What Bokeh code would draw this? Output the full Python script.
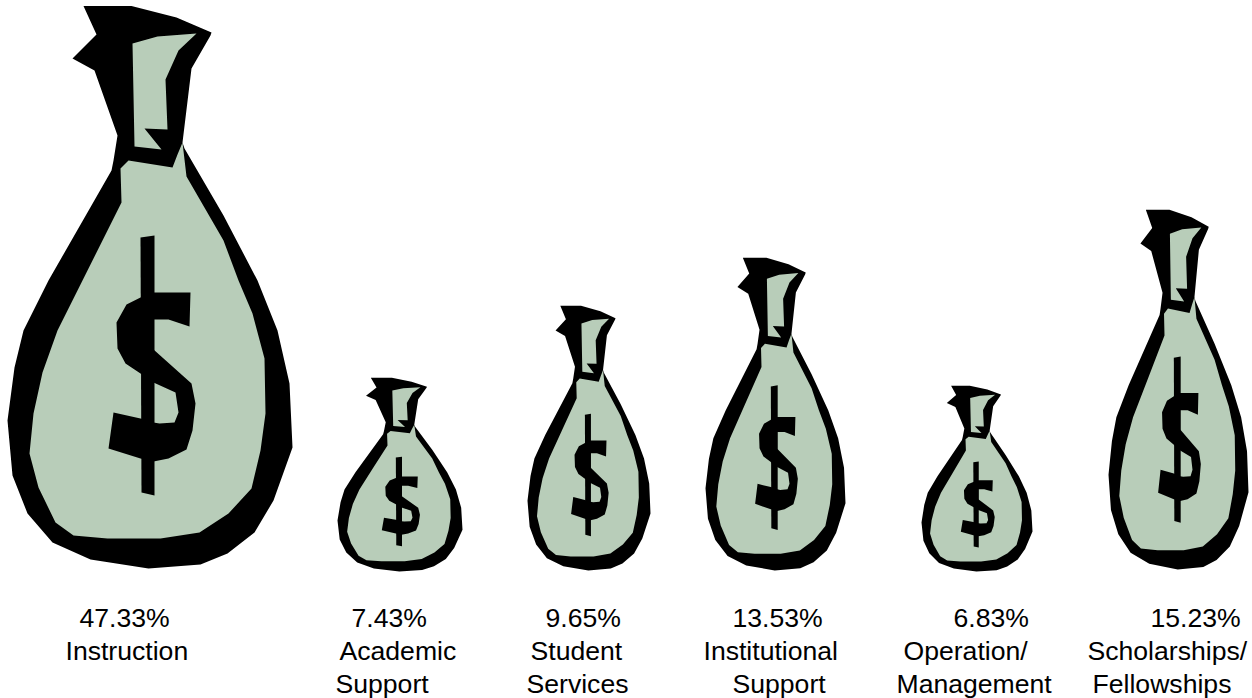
from bokeh.plotting import figure
from bokeh.models import Range1d
from bokeh.core.properties import value
from bokeh.embed import file_html
from bokeh.resources import INLINE

# ---- chart values -------------------------------------------------
categories = [["Instruction"], ["Academic", "Support"], ["Student", "Services"],
              ["Institutional", "Support"], ["Operation/", "Management"],
              ["Scholarships/", "Fellowships"]]
shares = [47.33, 7.43, 9.65, 13.53, 6.83, 15.23]

# ---- layout: bag boxes (left, right, top, bottom) ---------------
bag_boxes = [(7, 292, 5, 568), (337, 462, 377, 571), (527, 650, 305, 570),
             (705, 845, 257, 570), (921, 1032, 385, 571), (1108, 1248, 209, 569)]
# left edge of each text row
label_x = [[79, 65], [351, 339, 335], [545, 530, 526],
           [732, 703, 732], [953, 903, 896], [1150, 1087, 1092]]
row_base = [617, 650, 683]
FONT_PX = 26.6

# ---- pictogram template (one money bag) -----------------------------
T_L, T_R, T_T, T_B = 7, 292, 5, 568
outline = [(83,5.5),(131,5.5),(176,17),(211,32),(210,35),(191,68),(182,142),(184,148),
           (223,215),(257,280),(277,330),(289,383),(292,447),(273,500),(254,532),(227,553),
           (200,564),(148,568),(90,559),(52,542),(27,513),(12,475),(7,420),(14,367),(23,330),
           (48,280),(111,170),(113,160),(117,135),(94,70),(72,58),(96,34)]
body = [(182,142),(186,176),(223,240),(238,280),(252,313),(264,358),(265,413),(260,450),
        (251,488),(228,513),(199,532),(160,538),(107,538),(73,535),(55,522),(38,487),(29,453),
        (33,413),(42,372),(57,330),(87,270),(121,202),(120,168),(128,160),(172,167),(177,154)]
neck = [(132,43),(157,36),(196,33),(178,50),(165,79),(167,129),(144,128),(161,149),(134,146)]
bar = [(140,237),(154,235),(154,495),(141,492)]
ess = [(190,292),(189,326),(168,319),(153,319),(153,349),(191,383),(195,403),(192,430),
       (186,449),(168,458),(153,461),(140,458),(108,448),(113,412),(140,418),(153,422),
       (159,423),(174,422),(178,412),(175,392),(153,382),(140,373),(125,363),(117,348),
       (116,322),(126,304),(140,297),(153,292)]

GREEN = "#b8cdb9"
p = figure(width=1252, height=698, output_backend="svg", toolbar_location=None,
           x_range=Range1d(0, 1252), y_range=Range1d(698, 0),
           x_axis_type="linear", min_border=0)
p.axis.visible = False
p.grid.visible = False
p.outline_line_color = None
p.background_fill_color = "white"
p.border_fill_color = "white"


def place(shape, box):
    l, r, t, b = box
    sx = (r - l) / (T_R - T_L)
    sy = (b - t) / (T_B - T_T)
    return [l + (x - T_L) * sx for x, _ in shape], [t + (y - T_T) * sy for _, y in shape]


for shape, color in [(outline, "black"), (body, GREEN), (neck, GREEN), (bar, "black"), (ess, "black")]:
    xs, ys = zip(*[place(shape, b) for b in bag_boxes])
    p.patches(list(xs), list(ys), fill_color=color, line_color=None)

tx, ty, tt = [], [], []
for share, cat, xrow in zip(shares, categories, label_x):
    rows = [f"{share:.2f}%"] + cat
    for i, s in enumerate(rows):
        tx.append(xrow[i]); ty.append(row_base[i]); tt.append(s)
p.text(tx, ty, text=tt, text_font=value("Liberation Sans"), text_font_size=f"{FONT_PX}px",
       text_color="black", text_align="left", text_baseline="alphabetic")

open("out.html", "w").write(file_html(p, INLINE))
